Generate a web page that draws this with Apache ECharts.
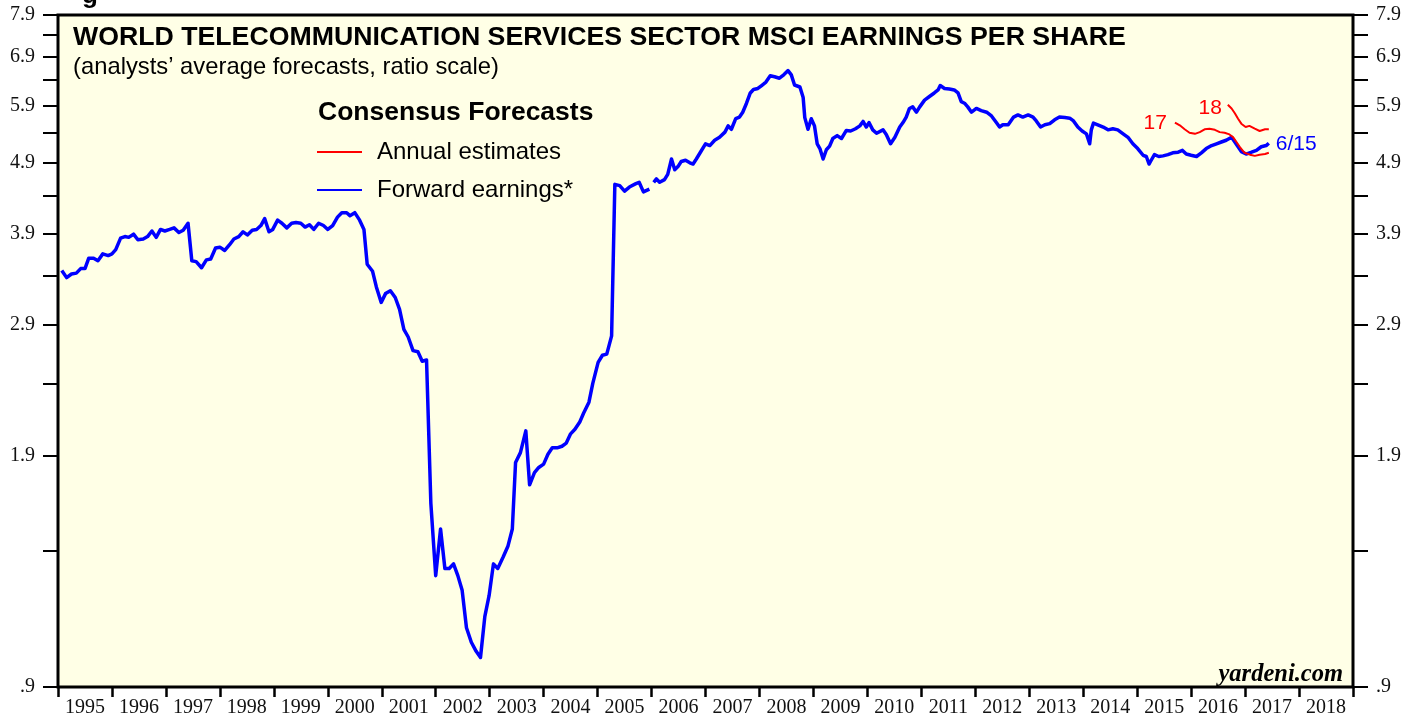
<!DOCTYPE html>
<html><head><meta charset="utf-8">
<script src="https://cdn.jsdelivr.net/npm/echarts@6/dist/echarts.min.js"></script>
<style>html,body{margin:0;padding:0;background:#fff}#c{width:1419px;height:719px}</style>
</head><body><div id="c"></div>
<script>
// ---- tick labels / categories ----
const years = [1995,1996,1997,1998,1999,2000,2001,2002,2003,2004,2005,2006,
  2007,2008,2009,2010,2011,2012,2013,2014,2015,2016,2017,2018];
const yTickValues = [0.9,1.4,1.9,2.4,2.9,3.4,3.9,4.4,4.9,5.4,5.9,6.4,6.9,7.4,7.9];
const yLabelValues = [0.9,1.9,2.9,3.9,4.9,5.9,6.9,7.9];

// ---- Forward earnings (monthly, 1995 - 2005) ----
const forwardA = [
[1995.07,3.46],[1995.16,3.38],[1995.25,3.42],[1995.34,3.43],[1995.42,3.48],[1995.50,3.48],[1995.57,3.60],
[1995.66,3.60],[1995.74,3.57],[1995.83,3.65],[1995.93,3.63],[1996.00,3.65],[1996.07,3.70],[1996.16,3.84],
[1996.24,3.86],[1996.31,3.85],[1996.40,3.89],[1996.48,3.82],[1996.58,3.83],[1996.66,3.86],[1996.74,3.93],
[1996.82,3.85],[1996.90,3.95],[1996.98,3.93],[1997.07,3.95],[1997.15,3.97],[1997.24,3.91],[1997.32,3.94],
[1997.41,4.03],[1997.48,3.57],[1997.56,3.56],[1997.66,3.49],[1997.75,3.58],[1997.83,3.59],[1997.92,3.72],
[1998.00,3.73],[1998.09,3.69],[1998.18,3.76],[1998.26,3.83],[1998.35,3.86],[1998.43,3.92],[1998.51,3.88],
[1998.60,3.94],[1998.68,3.95],[1998.76,4.00],[1998.83,4.09],[1998.91,3.92],[1998.98,3.95],[1999.07,4.07],
[1999.15,4.03],[1999.24,3.97],[1999.33,4.03],[1999.41,4.04],[1999.50,4.03],[1999.58,3.98],[1999.66,4.01],
[1999.74,3.95],[1999.83,4.03],[1999.92,4.00],[2000.00,3.95],[2000.09,4.00],[2000.18,4.11],[2000.26,4.17],
[2000.35,4.17],[2000.41,4.13],[2000.50,4.17],[2000.59,4.07],[2000.67,3.95],[2000.73,3.53],[2000.83,3.45],
[2000.90,3.28],[2000.99,3.12],[2001.07,3.21],[2001.16,3.24],[2001.25,3.17],[2001.33,3.05],[2001.41,2.86],
[2001.49,2.79],[2001.58,2.67],[2001.67,2.66],[2001.75,2.58],[2001.83,2.59],[2001.91,1.63],[2002.00,1.29],
[2002.09,1.50],[2002.17,1.32],[2002.25,1.32],[2002.33,1.34],[2002.41,1.29],[2002.49,1.23],[2002.57,1.09],
[2002.66,1.04],[2002.75,1.01],[2002.83,0.99],[2002.91,1.13],[2002.99,1.21],[2003.07,1.34],[2003.15,1.32],
[2003.25,1.37],[2003.34,1.42],[2003.42,1.50],[2003.48,1.86],[2003.57,1.92],[2003.67,2.06],[2003.74,1.73],
[2003.83,1.80],[2003.91,1.83],[2004.00,1.85],[2004.08,1.91],[2004.16,1.95],[2004.25,1.95],[2004.34,1.96],
[2004.42,1.98],[2004.50,2.04],[2004.58,2.07],[2004.67,2.12],[2004.74,2.18],[2004.84,2.26],[2004.91,2.40],
[2005.01,2.57],[2005.09,2.63],[2005.17,2.64],[2005.26,2.80],[2005.32,4.57],[2005.41,4.55],[2005.50,4.47],
[2005.59,4.53],[2005.71,4.58],[2005.77,4.60],[2005.85,4.46],[2005.96,4.50]
];

// ---- Forward earnings (weekly, 2006 - 6/15/2017) ----
const forwardB = [
[2006.04,4.60],[2006.09,4.65],[2006.15,4.60],[2006.24,4.64],[2006.30,4.72],[2006.37,4.96],[2006.43,4.79],
[2006.49,4.84],[2006.55,4.92],[2006.63,4.94],[2006.71,4.90],[2006.77,4.88],[2006.83,4.96],[2006.92,5.09],
[2007.00,5.21],[2007.08,5.18],[2007.17,5.27],[2007.26,5.32],[2007.36,5.41],[2007.42,5.52],[2007.48,5.46],
[2007.56,5.65],[2007.63,5.68],[2007.69,5.77],[2007.76,5.94],[2007.83,6.14],[2007.89,6.21],[2007.97,6.23],
[2008.04,6.29],[2008.12,6.36],[2008.20,6.49],[2008.28,6.47],[2008.37,6.44],[2008.45,6.51],[2008.53,6.60],
[2008.59,6.51],[2008.65,6.30],[2008.75,6.26],[2008.81,6.05],[2008.84,5.67],[2008.90,5.46],[2008.96,5.65],
[2009.02,5.52],[2009.07,5.21],[2009.12,5.13],[2009.18,4.96],[2009.24,5.11],[2009.30,5.17],[2009.36,5.30],
[2009.44,5.35],[2009.52,5.30],[2009.61,5.44],[2009.69,5.43],[2009.78,5.47],[2009.86,5.52],[2009.92,5.60],
[2009.98,5.50],[2010.03,5.58],[2010.10,5.45],[2010.17,5.39],[2010.29,5.45],[2010.35,5.37],[2010.43,5.21],
[2010.51,5.32],[2010.60,5.50],[2010.66,5.58],[2010.72,5.68],[2010.78,5.84],[2010.84,5.87],[2010.91,5.77],
[2010.97,5.87],[2011.06,6.00],[2011.15,6.07],[2011.24,6.14],[2011.31,6.20],[2011.35,6.29],[2011.43,6.23],
[2011.52,6.22],[2011.61,6.20],[2011.68,6.14],[2011.74,5.97],[2011.80,5.94],[2011.86,5.87],[2011.93,5.77],
[2012.02,5.84],[2012.11,5.80],[2012.21,5.77],[2012.30,5.70],[2012.39,5.58],[2012.45,5.50],[2012.51,5.54],
[2012.61,5.54],[2012.71,5.68],[2012.79,5.72],[2012.88,5.68],[2012.98,5.72],[2013.07,5.68],[2013.13,5.61],
[2013.21,5.50],[2013.29,5.54],[2013.38,5.56],[2013.47,5.63],[2013.56,5.68],[2013.66,5.67],[2013.75,5.66],
[2013.82,5.61],[2013.90,5.50],[2013.98,5.43],[2014.06,5.38],[2014.12,5.21],[2014.15,5.45],[2014.19,5.57],
[2014.27,5.54],[2014.37,5.50],[2014.46,5.45],[2014.55,5.47],[2014.64,5.45],[2014.74,5.38],[2014.83,5.32],
[2014.92,5.21],[2015.01,5.13],[2015.11,5.02],[2015.17,5.00],[2015.22,4.88],[2015.26,4.94],[2015.32,5.03],
[2015.40,5.00],[2015.48,5.01],[2015.57,5.03],[2015.66,5.06],[2015.76,5.07],[2015.84,5.10],[2015.91,5.04],
[2016.00,5.02],[2016.10,5.00],[2016.19,5.06],[2016.28,5.13],[2016.38,5.18],[2016.47,5.21],[2016.56,5.24],
[2016.65,5.27],[2016.75,5.32],[2016.81,5.24],[2016.87,5.16],[2016.93,5.08],[2017.02,5.04],[2017.12,5.07],
[2017.21,5.10],[2017.30,5.16],[2017.39,5.18],[2017.44,5.22]
];

// ---- Annual estimates ----
const annual17 = [
[2015.70,5.58],[2015.79,5.53],[2015.88,5.46],[2015.97,5.40],[2016.07,5.38],[2016.16,5.41],[2016.25,5.46],
[2016.34,5.47],[2016.44,5.45],[2016.53,5.41],[2016.62,5.40],[2016.71,5.37],[2016.78,5.32],[2016.84,5.24],
[2016.90,5.16],[2016.99,5.06],[2017.09,5.03],[2017.18,5.01],[2017.27,5.03],[2017.37,5.04],[2017.44,5.06]
];
const annual18 = [
[2016.68,5.91],[2016.75,5.84],[2016.81,5.75],[2016.87,5.65],[2016.93,5.56],[2017.01,5.50],[2017.08,5.52],
[2017.18,5.47],[2017.27,5.43],[2017.37,5.46],[2017.44,5.46]
];

const BLUE = '#0000ff', RED = '#ff0000';
const SANS = 'Liberation Sans, Arial, sans-serif';
const SERIF = 'Liberation Serif, Times New Roman, serif';
const toLog = arr => arr.map(p => [p[0], Math.log(p[1])]);
const fmtY = v => { const s = Math.exp(v).toFixed(1); return s.startsWith('0') ? s.slice(1) : s; };

const yAxisCommon = {
  type: 'value', min: Math.log(0.9), max: Math.log(7.9),
  axisLine: { show: false, onZero: false }, splitLine: { show: false },
  axisTick: { show: true, inside: false, length: 15, lineStyle: { color: '#000', width: 2 },
              customValues: yTickValues.map(Math.log) },
  axisLabel: { customValues: yLabelValues.map(Math.log), formatter: fmtY,
               fontFamily: SERIF, fontSize: 20, color: '#111', margin: 23 }
};

const xTickValues = years.concat([years[years.length - 1] + 1]);
const xLabelValues = years.map(y => y + 0.5);

const chart = echarts.init(document.getElementById('c'), null, { renderer: 'canvas' });
chart.setOption({
  animation: false,
  backgroundColor: '#ffffff',
  grid: { left: 58, top: 15, width: 1295, height: 672, show: true,
          backgroundColor: '#ffffe6', borderColor: '#000', borderWidth: 3 },
  title: [
    { text: 'WORLD TELECOMMUNICATION SERVICES SECTOR MSCI EARNINGS PER SHARE', left: 73, top: 24, padding: 0,
      textStyle: { fontFamily: SANS, fontWeight: 'bold', fontSize: 26.7, color: '#000' } },
    { text: '(analysts\u2019 average forecasts, ratio scale)', left: 73, top: 55, padding: 0,
      textStyle: { fontFamily: SANS, fontWeight: 'normal', fontSize: 23.8, color: '#000' } },
    { text: 'Consensus Forecasts', left: 318, top: 99, padding: 0,
      textStyle: { fontFamily: SANS, fontWeight: 'bold', fontSize: 26.5, color: '#000' } },
    { text: 'yardeni.com', right: 76, top: 662, padding: 0,
      textStyle: { fontFamily: SERIF, fontWeight: 'bold', fontStyle: 'italic', fontSize: 24.5, color: '#000' } }
  ],
  legend: {
    data: ['Annual estimates', 'Forward earnings*'],
    orient: 'vertical', left: 316, top: 140, padding: 0,
    itemWidth: 45, itemHeight: 14, itemGap: 14,
    selectedMode: false,
    itemStyle: { opacity: 0, borderWidth: 0 },
    textStyle: { fontFamily: SANS, fontSize: 24, color: '#000', padding: [0, 0, 0, 10] }
  },
  xAxis: [
    { type: 'value', min: 1995, max: 2019, position: 'bottom',
      axisLine: { show: false, onZero: false }, splitLine: { show: false },
      axisTick: { show: true, inside: false, length: 10, lineStyle: { color: '#000', width: 2.5 },
                  customValues: xTickValues },
      axisLabel: { customValues: xLabelValues, formatter: v => String(Math.floor(v)),
                   fontFamily: SERIF, fontSize: 20, color: '#111', margin: 11 } }
  ],
  yAxis: [
    Object.assign({ position: 'left' }, yAxisCommon),
    Object.assign({ position: 'right' }, yAxisCommon)
  ],
  series: [
    { name: 'Forward earnings*', type: 'line', data: toLog(forwardA),
      showSymbol: false, symbol: 'none', lineStyle: { color: BLUE, width: 3.5, join: 'round' }, itemStyle: { color: BLUE } },
    { name: 'Forward earnings*', type: 'line', data: toLog(forwardB),
      showSymbol: false, symbol: 'none', lineStyle: { color: BLUE, width: 3.5, join: 'round' }, itemStyle: { color: BLUE },
      endLabel: { show: true, formatter: '6/15', color: BLUE, fontFamily: SANS, fontSize: 21, distance: 7, offset: [0, 1] } },
    { name: 'Annual estimates', type: 'line', data: toLog(annual17),
      showSymbol: false, symbol: 'none', lineStyle: { color: RED, width: 2 }, itemStyle: { color: RED },
      markPoint: { symbol: 'circle', symbolSize: 0, silent: true,
        data: [{ coord: [annual17[0][0], Math.log(annual17[0][1])] }],
        label: { show: true, formatter: '17', position: 'left', distance: 8, offset: [0, 1],
                 color: RED, fontFamily: SANS, fontSize: 21 } } },
    { name: 'Annual estimates', type: 'line', data: toLog(annual18),
      showSymbol: false, symbol: 'none', lineStyle: { color: RED, width: 2 }, itemStyle: { color: RED },
      markPoint: { symbol: 'circle', symbolSize: 0, silent: true,
        data: [{ coord: [annual18[0][0], Math.log(annual18[0][1])] }],
        label: { show: true, formatter: '18', position: 'left', distance: 6, offset: [0, 3],
                 color: RED, fontFamily: SANS, fontSize: 21 } } }
  ],
  graphic: [
    { type: 'text', left: 82, top: -17, silent: true,
      style: { text: 'g', font: 'bold 26px ' + SANS, fill: '#000' } }
  ]
});
</script>
</body></html>
